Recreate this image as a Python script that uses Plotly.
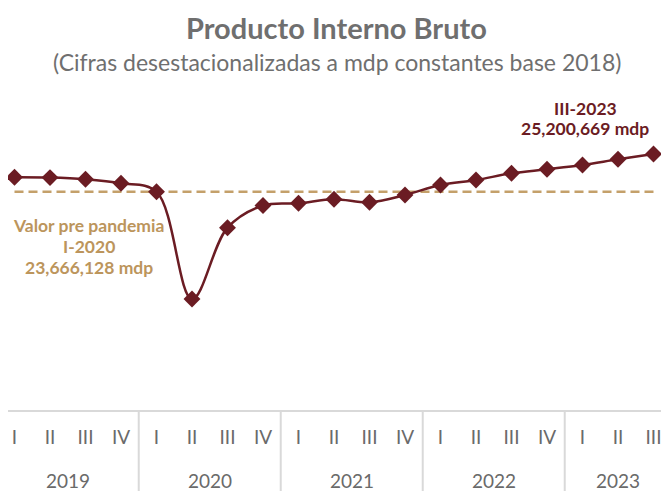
import plotly.graph_objects as go

year_labels = ["2019", "2020", "2021", "2022", "2023"]
years = ["2019"] * 4 + ["2020"] * 4 + ["2021"] * 4 + ["2022"] * 4 + ["2023"] * 3
quarters = ["I", "II", "III", "IV"] * 4 + ["I", "II", "III"]
pib = [24252000, 24240000, 24171000, 24008000,
       23666128, 19299000, 22201000, 23104000,
       23194000, 23357000, 23235000, 23532000,
       23939000, 24142000, 24415000, 24578000,
       24753000, 24985000, 25200669]
prepandemia = 23666128

cats = [f"{q}-{y}" for q, y in zip(quarters, years)]

LINE = "#6B1C23"
GOLD = "#C4A06A"
GOLD_TXT = "#BC955C"
GRAY = "#6F6F6F"
TICK = "#6A6A6A"
DIV = "#D9D9D9"
FONT = "Lato"

# the page body has an 8px margin: the figure occupies viewport x 8..669, y 8..491
W, H = 661, 483
# plot area in viewport pixels: x 8..669, y 90..410


def py(p):
    return (410 - p) / 320


def px(p):
    return (p - 8) / 661


fig = go.Figure()
fig.add_trace(go.Scatter(
    x=cats, y=[prepandemia] * len(pib), mode="lines",
    line=dict(color=GOLD, width=2.5, dash="9px,5px"), hoverinfo="skip",
    cliponaxis=False))
fig.add_trace(go.Scatter(
    x=cats, y=pib, mode="lines+markers",
    line=dict(color=LINE, width=2.5, shape="spline", smoothing=1),
    marker=dict(symbol="diamond", size=13, color=LINE), cliponaxis=False))

fig.add_annotation(text="<b>Producto Interno Bruto</b>", xref="paper", yref="paper",
                   x=px(336), y=py(27), xanchor="center", yanchor="middle",
                   showarrow=False, font=dict(family=FONT, size=29, color=GRAY))
fig.add_annotation(text="(Cifras desestacionalizadas a mdp constantes base 2018)",
                   xref="paper", yref="paper", x=px(337), y=py(62),
                   xanchor="center", yanchor="middle",
                   showarrow=False, font=dict(family=FONT, size=23, color=GRAY))

for txt, yy in zip(["Valor pre pandemia", "I-2020", "23,666,128 mdp"], [225, 246, 267]):
    fig.add_annotation(text=f"<b>{txt}</b>", xref="paper", yref="paper",
                       x=px(88.5), y=py(yy), xanchor="center", yanchor="middle",
                       showarrow=False,
                       font=dict(family=FONT, size=17.5, color=GOLD_TXT))
for txt, yy in zip(["III-2023", "25,200,669 mdp"], [108, 128]):
    fig.add_annotation(text=f"<b>{txt}</b>", xref="paper", yref="paper",
                       x=px(585), y=py(yy), xanchor="center", yanchor="middle",
                       showarrow=False,
                       font=dict(family=FONT, size=17.5, color=LINE))

# year labels and dividers on the category scale
for k, yl in enumerate(year_labels):
    idx = [i for i, y in enumerate(years) if y == yl]
    center = (idx[0] + idx[-1]) / 2
    fig.add_annotation(text=yl, xref="x", yref="paper", x=center, y=py(480),
                       xanchor="center", yanchor="middle", showarrow=False,
                       font=dict(family=FONT, size=19, color=TICK))
    if k > 0:
        fig.add_shape(type="line", xref="x", yref="paper", x0=idx[0] - 0.5, x1=idx[0] - 0.5,
                      y0=0, y1=py(495), line=dict(color=DIV, width=2))

ytop = 25200669 + 64 * 40704
ybot = ytop - 320 * 40704
fig.update_layout(
    width=W, height=H, autosize=False,
    margin=dict(l=0, r=0, t=82, b=81),
    paper_bgcolor="white", plot_bgcolor="white",
    showlegend=False,
    xaxis=dict(type="category", range=[-0.183, 18.437], automargin=False,
               tickmode="array", tickvals=cats, ticktext=quarters,
               showline=True, linecolor=DIV, linewidth=2,
               showgrid=False, ticks="outside", ticklen=9, tickcolor="rgba(0,0,0,0)",
               tickfont=dict(family=FONT, size=19, color=TICK)),
    yaxis=dict(range=[ybot, ytop], visible=False, showgrid=False, zeroline=False,
               automargin=False),
)
fig.write_html("out.html")
